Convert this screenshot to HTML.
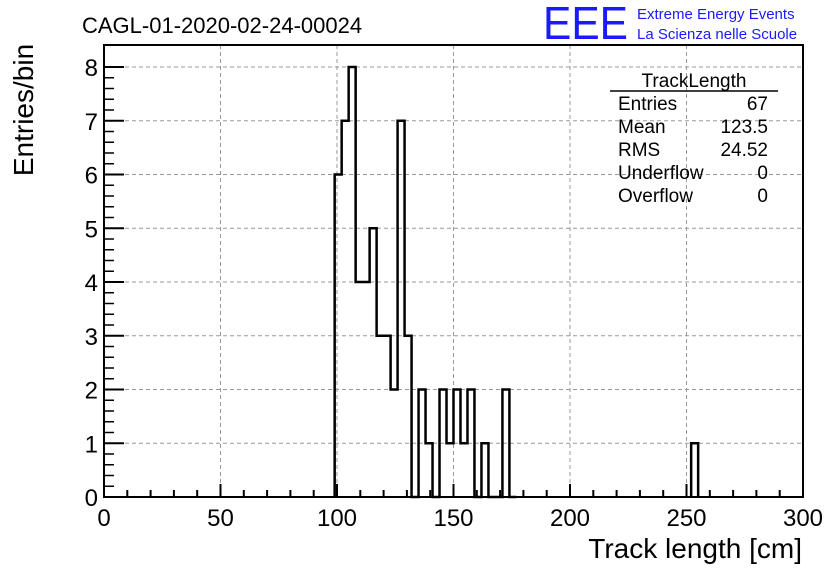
<!DOCTYPE html>
<html><head><meta charset="utf-8"><style>
body{margin:0;background:#fff;}
svg text{font-family:"Liberation Sans",sans-serif;}
</style></head><body>
<svg width="836" height="572" xmlns="http://www.w3.org/2000/svg">
<rect width="836" height="572" fill="#fff"/>
<g id="grid"></g>
<g id="hist"></g>
<rect x="104" y="45" width="699" height="452" fill="none" stroke="#000" stroke-width="2"/>
<g id="axes"></g>
<text x="82" y="33" font-size="22">CAGL-01-2020-02-24-00024</text>
<text x="543" y="39" font-size="46" fill="#1a1aff" textLength="85" lengthAdjust="spacingAndGlyphs">EEE</text>
<text x="637" y="19" font-size="15" fill="#1a1aff">Extreme Energy Events</text>
<text x="637" y="39" font-size="15" fill="#1a1aff">La Scienza nelle Scuole</text>
<text x="802" y="558" font-size="28" text-anchor="end">Track length [cm]</text>
<text transform="translate(33,110) rotate(-90)" font-size="28" text-anchor="middle">Entries/bin</text>
<g font-size="19">
<text x="694" y="87" text-anchor="middle">TrackLength</text>
<line x1="610" y1="91" x2="778" y2="91" stroke="#000" stroke-width="1.5"/>
<text x="618" y="110">Entries</text><text x="768" y="110" text-anchor="end">67</text>
<text x="618" y="133">Mean</text><text x="768" y="133" text-anchor="end">123.5</text>
<text x="618" y="156">RMS</text><text x="768" y="156" text-anchor="end">24.52</text>
<text x="618" y="179">Underflow</text><text x="768" y="179" text-anchor="end">0</text>
<text x="618" y="202">Overflow</text><text x="768" y="202" text-anchor="end">0</text>
</g>
</svg>
<script>
const binStarts=[99,102,105,108,111,114,117,120,123,126,129,132,135,138,141,144,147,150,153,156,159,162,165,168,171,174,252];
const binCounts=[6,7,8,4,4,5,3,3,2,7,3,0,2,1,0,2,1,2,1,2,0,1,0,0,2,0,1];
const binWidth=3;
const xTicks=[0,50,100,150,200,250,300];
const yTicks=[0,1,2,3,4,5,6,7,8];
const X0=104,X1=803,Y0=497,Y1=67;
const xs=v=>X0+(v-0)/300*(X1-X0);
const ys=v=>Y0-v/8*(Y0-Y1);
const NS="http://www.w3.org/2000/svg";
function mk(t,a,p){const e=document.createElementNS(NS,t);for(const k in a)e.setAttribute(k,a[k]);p.appendChild(e);return e;}
const grid=document.getElementById('grid'),axes=document.getElementById('axes'),hist=document.getElementById('hist');
xTicks.forEach(v=>{if(v>0&&v<300){const l=mk('line',{x1:xs(v),x2:xs(v),y1:45,y2:Y0,stroke:'#999','stroke-dasharray':'4,3'},grid);}
 const t=mk('text',{x:xs(v),y:526,'font-size':24,'text-anchor':'middle'},axes);t.textContent=v;
 mk('line',{x1:xs(v),x2:xs(v),y1:Y0,y2:Y0-13,stroke:'#000','stroke-width':2},axes);});
for(let v=0;v<=300;v+=10){if(v%50)mk('line',{x1:xs(v),x2:xs(v),y1:Y0,y2:Y0-7,stroke:'#000','stroke-width':2},axes);}
yTicks.forEach(v=>{if(v>0){const l=mk('line',{x1:X0,x2:X1,y1:ys(v),y2:ys(v),stroke:'#999','stroke-dasharray':'4,3'},grid);}
 const t=mk('text',{x:98,y:ys(v)+9,'font-size':24,'text-anchor':'end'},axes);t.textContent=v;
 mk('line',{x1:X0,x2:X0+20,y1:ys(v),y2:ys(v),stroke:'#000','stroke-width':2},axes);
 if(v<8)for(let k=1;k<5;k++)mk('line',{x1:X0,x2:X0+10,y1:ys(v+k/5),y2:ys(v+k/5),stroke:'#000','stroke-width':1.5},axes);});
let d='';let prevEnd=null;
binStarts.forEach((s,i)=>{const a=xs(s),b=xs(s+binWidth),y=ys(binCounts[i]);
 if(prevEnd===null||Math.abs(prevEnd-s)>1e-6){d+=`M${a},${Y0}`;}
 d+=`L${a},${y}L${b},${y}`;prevEnd=s+binWidth;
 const nx=binStarts[i+1];if(nx===undefined||Math.abs(nx-prevEnd)>1e-6)d+=`L${b},${Y0}`;});
const p=mk('path',{d:d,fill:'none',stroke:'#000','stroke-width':2.5},hist);


</script>
</body></html>
